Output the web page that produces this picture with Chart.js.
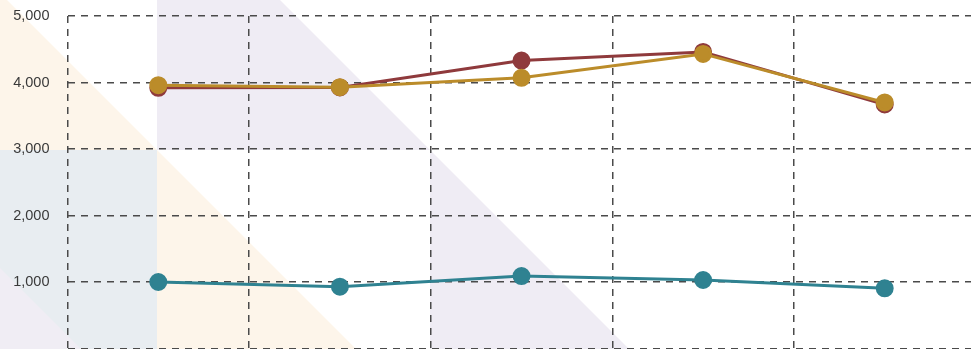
<!DOCTYPE html>
<html>
<head>
<meta charset="utf-8">
<title>Line chart</title>
<script src="https://cdn.jsdelivr.net/npm/chart.js@4"></script>
<style>
  html, body { margin: 0; padding: 0; background: #fff; overflow: hidden; }
  #frame { width: 971px; height: 349px; overflow: hidden; }
  #wrap { position: relative; width: 1000px; height: 366px; }
</style>
</head>
<body>
<div id="frame">
  <div id="wrap"><canvas id="chart"></canvas></div>
</div>
<script>
// data
const categories = ['P1', 'P2', 'P3', 'P4', 'P5'];
const redValues = [3920, 3925, 4330, 4460, 3670];
const goldValues = [3960, 3930, 4070, 4430, 3700];
const tealValues = [1000, 930, 1090, 1030, 905];
const yTicks = { min: 0, max: 5000, step: 1000 };

const RED = '#8f3a3c';
const GOLD = '#bb8c2a';
const TEAL = '#2f8291';

// soft diagonal shapes painted behind everything
const backdrop = {
  id: 'backdrop',
  beforeDraw(chart) {
    const ctx = chart.ctx;
    const shapes = [
      ['#fdf5ea', [[0, 0], [7, 0], [157, 150], [0, 150]]],
      ['#efecf4', [[157, 0], [280, 0], [430, 150], [157, 150]]],
      ['#e8edf1', [[0, 150], [157, 150], [157, 366], [0, 366]]],
      ['#f0edf4', [[0, 268], [98, 366], [0, 366]]],
      ['#fdf5ea', [[157, 150], [373, 366], [157, 366]]],
      ['#efecf4', [[430, 150], [646, 366], [430, 366]]]
    ];
    ctx.save();
    ctx.filter = 'blur(0.6px)';
    shapes.forEach(([color, pts]) => {
      ctx.beginPath();
      pts.forEach(([x, y], i) => i ? ctx.lineTo(x, y) : ctx.moveTo(x, y));
      ctx.closePath();
      ctx.fillStyle = color;
      ctx.fill();
    });
    ctx.restore();
  }
};

function series(label, values, color, order) {
  return {
    label: label,
    data: values,
    borderColor: color,
    backgroundColor: color,
    pointBackgroundColor: color,
    pointBorderColor: color,
    borderWidth: 3,
    pointRadius: 7.5,
    pointHoverRadius: 7.5,
    tension: 0,
    order: order
  };
}

const gridColor = '#4a4a4a';
const dash = [7, 6];

const chart = new Chart(document.getElementById('chart'), {
  type: 'line',
  data: {
    labels: categories,
    datasets: [
      series('Series 1', redValues, RED, 2),
      series('Series 2', goldValues, GOLD, 1),
      series('Series 3', tealValues, TEAL, 0)
    ]
  },
  plugins: [backdrop],
  options: {
    responsive: true,
    maintainAspectRatio: false,
    devicePixelRatio: 1,
    animation: false,
    layout: { padding: { top: 16, bottom: 17.5, left: 0, right: 24.5 } },
    plugins: {
      legend: { display: false },
      tooltip: { enabled: false }
    },
    scales: {
      x: {
        offset: true,
        grid: { offset: true, color: gridColor, lineWidth: 1.5, drawTicks: false },
        border: { display: false, dash: dash },
        ticks: { display: false }
      },
      y: {
        min: yTicks.min,
        max: yTicks.max,
        afterFit(scale) { scale.width = 67.5; },
        grid: { color: gridColor, lineWidth: 1.5, drawTicks: true, tickLength: 18, tickColor: 'rgba(0,0,0,0)' },
        border: { display: false, dash: dash },
        ticks: {
          stepSize: yTicks.step,
          padding: 0,
          color: '#3a3a3a',
          font: { family: 'Liberation Sans, Arial, sans-serif', size: 14.5 },
          callback: v => v === 0 ? '' : v.toLocaleString('en-US')
        }
      }
    }
  }
});

// keep the plot box at: top line y=16, zero line y=348.5, right edge x=975.5
const box = { top: 16, bottom: 348.5, right: 975.5 };
for (let pass = 0; pass < 3; pass++) {
  const area = chart.chartArea;
  const pad = chart.options.layout.padding;
  pad.top += box.top - area.top;
  pad.bottom += area.bottom - box.bottom;
  pad.right += area.right - box.right;
  chart.update();
}
</script>
</body>
</html>
